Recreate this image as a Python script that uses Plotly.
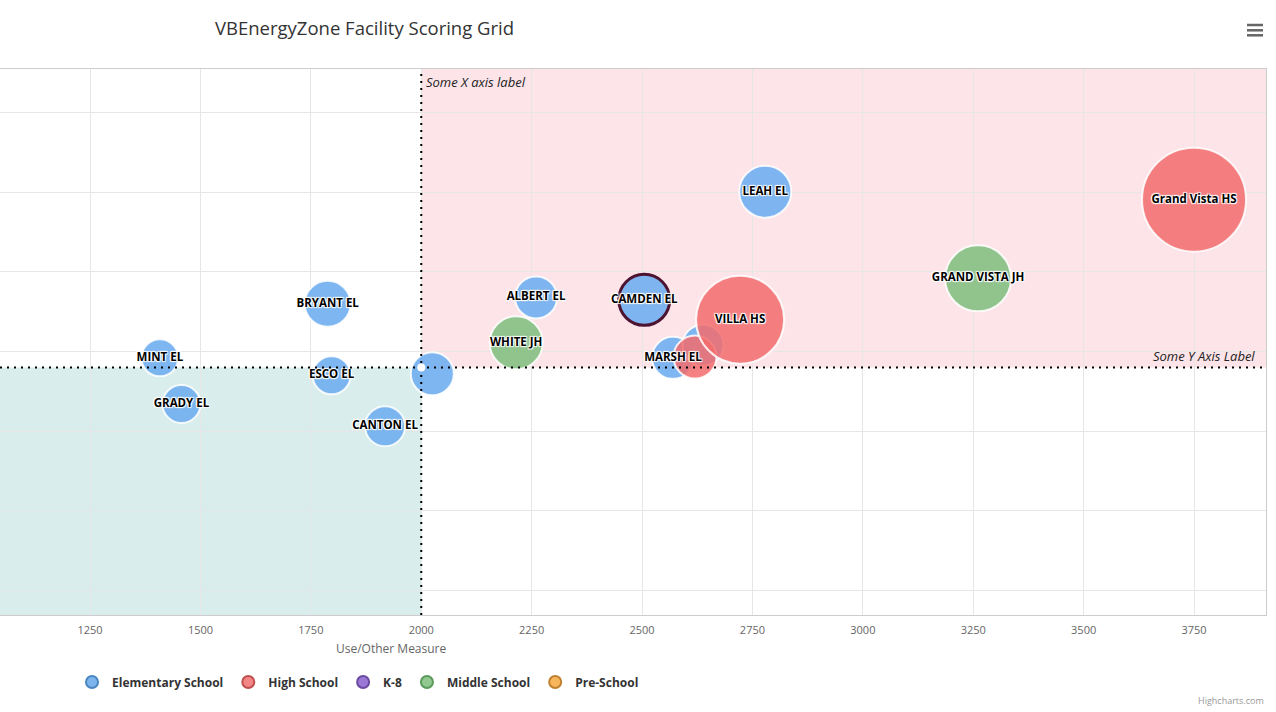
import plotly.graph_objects as go

# ---------------- data ----------------
ELEM_NAMES = ["MINT EL", "GRADY EL", "BRYANT EL", "ESCO EL", "CANTON EL", "",
              "ALBERT EL", "CAMDEN EL", "MARSH EL", "", "LEAH EL"]
ELEM_X = [1408, 1457, 1788, 1797, 1918, 2025, 2260, 2505, 2570, 2638, 2779]
ELEM_Y = [39.2, 33.4, 46.0, 37.0, 30.6, 37.2, 46.8, 46.5, 39.2, 40.8, 60.1]
ELEM_Z = [342, 361, 529, 361, 400, 462, 441, 650, 441, 420, 676]

HS_NAMES = ["", "VILLA HS", "Grand Vista HS"]
HS_X = [2620, 2722, 3750]
HS_Y = [39.3, 44.0, 59.1]
HS_Z = [462, 1936, 2704]

MS_NAMES = ["WHITE JH", "GRAND VISTA JH"]
MS_X = [2215, 3261]
MS_Y = [41.1, 49.2]
MS_Z = [702, 1089]

SERIES = ["Elementary School", "High School", "K-8", "Middle School", "Pre-School"]
LEGEND_COLORS = ["#7cb5ec", "#f28585", "#9b77d6", "#90c890", "#f7b55c"]
LEGEND_LINES = ["#4a86c0", "#c05050", "#6a4aa0", "#5a9a5a", "#c08030"]

X_THRESHOLD = 2000
Y_THRESHOLD = 38
X_RANGE = [1046, 3913]
Y_RANGE = [6.86, 75.53]
X_TICKS = [1250, 1500, 1750, 2000, 2250, 2500, 2750, 3000, 3250, 3500, 3750]

TITLE = "VBEnergyZone Facility Scoring Grid"
X_TITLE = "Use/Other Measure"

FONT = "Open Sans"
HALO = "1px 1px 1px #fff, -1px -1px 1px #fff, 1px -1px 1px #fff, -1px 1px 1px #fff"

fig = go.Figure()

def bubbles(x, y, z, color, line_colors=None, line_widths=None):
    return go.Scatter(
        x=x, y=y, mode="markers", showlegend=False, hoverinfo="skip",
        marker=dict(size=z, sizemode="area", sizeref=0.5, color=color, opacity=1,
                    line=dict(color=line_colors or "rgba(255,255,255,0.85)",
                              width=line_widths or 2)),
    )

elem_line_colors = ["rgba(255,255,255,0.85)"] * len(ELEM_X)
elem_line_widths = [2] * len(ELEM_X)
ci = ELEM_NAMES.index("CAMDEN EL")
elem_line_colors[ci] = "#4d1432"
elem_line_widths[ci] = 3

fig.add_trace(bubbles(ELEM_X, ELEM_Y, ELEM_Z, "rgba(112,174,240,0.9)",
                      elem_line_colors, elem_line_widths))
fig.add_trace(bubbles(HS_X, HS_Y, HS_Z, "rgba(242,108,108,0.85)"))
fig.add_trace(bubbles(MS_X, MS_Y, MS_Z, "rgba(136,192,132,0.92)"))

# labels on top
fig.add_trace(go.Scatter(
    x=ELEM_X + HS_X + MS_X, y=ELEM_Y + HS_Y + MS_Y,
    text=ELEM_NAMES + HS_NAMES + MS_NAMES, mode="text",
    textposition="middle center", showlegend=False, hoverinfo="skip",
    textfont=dict(family=FONT, size=11.5, color="#000000", weight="bold", shadow=HALO),
))

# legend-only entries
for name, c, lc in zip(SERIES, LEGEND_COLORS, LEGEND_LINES):
    fig.add_trace(go.Scatter(
        x=[None], y=[None], mode="markers", name=name,
        marker=dict(size=12, color=c, line=dict(color=lc, width=1)),
    ))

# quadrant bands
fig.add_shape(type="rect", xref="x", yref="y", x0=X_THRESHOLD, x1=X_RANGE[1],
              y0=Y_THRESHOLD, y1=Y_RANGE[1], fillcolor="#fde4e8",
              line=dict(width=0), layer="below")
fig.add_shape(type="rect", xref="x", yref="y", x0=X_RANGE[0], x1=X_THRESHOLD,
              y0=Y_RANGE[0], y1=Y_THRESHOLD, fillcolor="#d9eeec",
              line=dict(width=0), layer="below")
# threshold lines
fig.add_shape(type="line", xref="x", yref="paper", x0=X_THRESHOLD, x1=X_THRESHOLD,
              y0=0, y1=1, line=dict(color="#000", width=2, dash="2px,5px"), layer="above")
fig.add_shape(type="line", xref="paper", yref="y", x0=0, x1=1,
              y0=Y_THRESHOLD, y1=Y_THRESHOLD,
              line=dict(color="#000", width=2, dash="2px,5px"), layer="above")
fig.add_shape(type="circle", xref="x", yref="y", xsizemode="pixel", ysizemode="pixel",
              xanchor=X_THRESHOLD, yanchor=Y_THRESHOLD, x0=-4, x1=4, y0=-4, y1=4,
              fillcolor="#ffffff", line=dict(width=0), layer="above")

# hamburger icon
for py in [25, 30.3, 35.3]:
    yp = (615 - py) / 546
    fig.add_shape(type="line", xref="paper", yref="paper", x0=1247 / 1266, x1=1263 / 1266,
                  y0=yp, y1=yp, line=dict(color="#666666", width=2.5))

annotations = [
    dict(text=TITLE, xref="paper", yref="paper", x=364 / 1266, y=(615 - 27) / 546,
         xanchor="center", yanchor="middle", showarrow=False,
         font=dict(family=FONT, size=18.5, color="#333333")),
    dict(text=X_TITLE, xref="paper", yref="paper", x=391 / 1266, y=(615 - 648) / 546,
         xanchor="center", yanchor="middle", showarrow=False,
         font=dict(family=FONT, size=12, color="#666666")),
    dict(text="Some X axis label", xref="x", yref="paper", x=X_THRESHOLD, y=1,
         xanchor="left", yanchor="top", xshift=3, yshift=-2, showarrow=False,
         font=dict(family=FONT, size=13, color="#222222", style="italic")),
    dict(text="Some Y Axis Label", xref="paper", yref="y", x=1, y=Y_THRESHOLD,
         xanchor="right", yanchor="bottom", xshift=-9, yshift=0, showarrow=False,
         font=dict(family=FONT, size=13, color="#222222", style="italic")),
    dict(text="Highcharts.com", xref="paper", yref="paper", x=1, y=(615 - 701) / 546,
         xanchor="right", yanchor="middle", showarrow=False,
         font=dict(family=FONT, size=9, color="#999999")),
]

fig.update_layout(
    width=1276, height=712,
    margin=dict(l=0, r=10, t=69, b=97),
    paper_bgcolor="#ffffff", plot_bgcolor="#ffffff",
    font=dict(family=FONT, color="#333333"),
    annotations=annotations,
    legend=dict(orientation="h", x=358 / 1266, xanchor="center",
                y=(615 - 682) / 546, yanchor="middle", itemsizing="constant",
                font=dict(family=FONT, size=12, color="#333333", weight="bold"),
                itemclick=False),
    xaxis=dict(range=X_RANGE, tickvals=X_TICKS, showgrid=True, gridcolor="#e6e6e6",
               zeroline=False, showline=True, linecolor="#cccccc", mirror=True,
               tickfont=dict(family=FONT, size=11, color="#666666"),
               ticks="", ticklabelstandoff=5),
    yaxis=dict(range=Y_RANGE, dtick=10, tick0=10, showgrid=True, gridcolor="#e6e6e6",
               zeroline=False, showline=True, linecolor="#cccccc", mirror=True,
               showticklabels=False, ticks=""),
)

fig.write_html("out.html", config={"displayModeBar": False},
               post_script="document.body.style.margin='0';")
